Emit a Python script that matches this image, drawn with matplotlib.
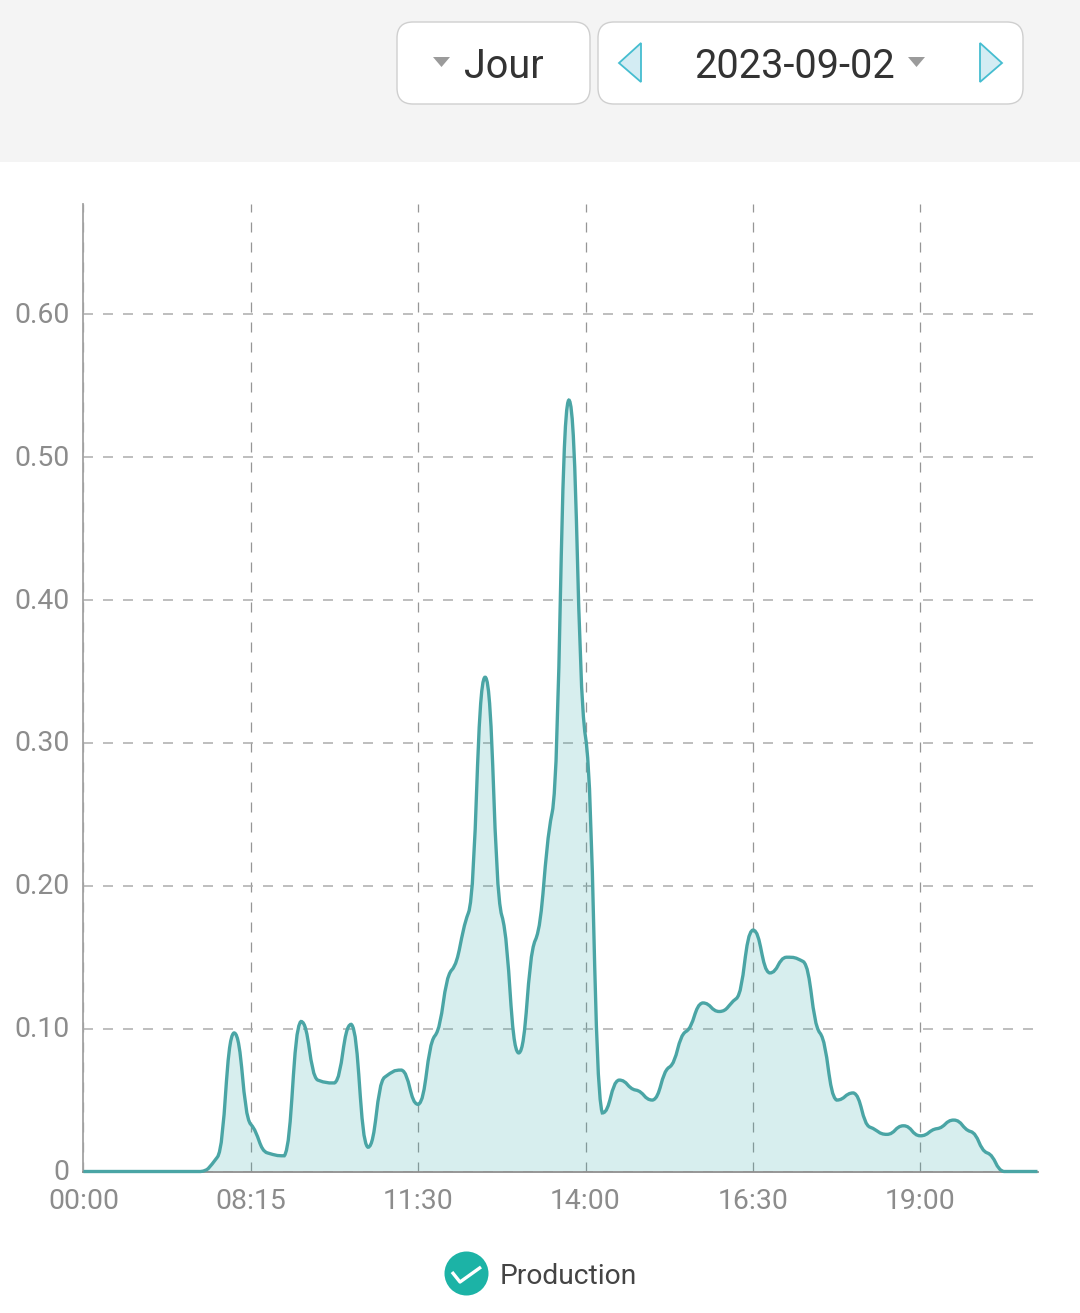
import matplotlib
matplotlib.use("Agg")
import matplotlib.pyplot as plt
import matplotlib.patches as mpatches
from matplotlib.path import Path
from matplotlib.transforms import ScaledTranslation

plt.rcParams["font.family"] = ["Roboto", "DejaVu Sans"]
plt.rcParams["lines.scale_dashes"] = False

# one value per slot, labels sit on every 10th slot
production = [
    0, 0, 0, 0, 0, 0, 0, 0, 0.010, 0.097,
    0.033, 0.013, 0.011, 0.105, 0.064, 0.062, 0.103, 0.017, 0.066, 0.071,
    0.047, 0.095, 0.141, 0.181, 0.346, 0.179, 0.083, 0.162, 0.251, 0.540,
    0.304, 0.041, 0.064, 0.057, 0.050, 0.073, 0.098, 0.118, 0.112, 0.121,
    0.169, 0.139, 0.150, 0.147, 0.097, 0.050, 0.055, 0.031, 0.026, 0.032,
    0.025, 0.030, 0.036, 0.028, 0.013, 0, 0, 0,
]
x_labels = ["00:00", "08:15", "11:30", "14:00", "16:30", "19:00"]
y_ticks = [0, 0.10, 0.20, 0.30, 0.40, 0.50, 0.60]
y_labels = ["0", "0.10", "0.20", "0.30", "0.40", "0.50", "0.60"]

W, H = 1080, 1313
fig = plt.figure(figsize=(W / 100, H / 100), dpi=100, facecolor="white")

# ─── page chrome, in pixels ───
page = fig.add_axes([0, 0, 1, 1])
page.set_xlim(0, W)
page.set_ylim(H, 0)
page.axis("off")
page.add_patch(mpatches.Rectangle((0, 0), W, 162, facecolor="#f4f4f4", edgecolor="none"))


def button(x, y, w, h):
    page.add_patch(mpatches.FancyBboxPatch(
        (x + 16, y + 16), w - 32, h - 32, boxstyle="round,pad=16",
        facecolor="white", edgecolor="#cfcfcf", linewidth=1.0))


def tri(points, fc, ec="none", lw=0):
    page.add_patch(mpatches.Polygon(points, closed=True, facecolor=fc, edgecolor=ec, linewidth=lw))


button(397, 22, 193, 82)
button(598, 22, 425, 82)
tri([(433, 57), (450, 57), (441.5, 67)], "#9b9b9b")
tri([(908, 57), (925, 57), (916.5, 67)], "#9b9b9b")
tri([(641, 43), (641, 82), (619, 63)], "#d3ecf3", "#45bdd0", 1.3)
tri([(980, 43), (980, 82), (1002, 63)], "#d3ecf3", "#45bdd0", 1.3)
page.text(464, 67, "Jour", fontsize=28.5, color="#333333", ha="left", va="center")
page.text(795, 67, "2023-09-02", fontsize=28.5, color="#333333", ha="center", va="center")

# legend
page.add_patch(mpatches.Circle((466.5, 1273.5), 22, facecolor="#1cb3a6", edgecolor="none"))
page.plot([452, 460, 481], [1272, 1282, 1267], color="white", lw=2.4, solid_capstyle="butt")
page.text(500, 1277, "Production", fontsize=20.3, color="#444444", ha="left", va="center")

# ─── chart ───
left, right, top, bottom = 83.4, 1037.5, 204, 1171.5
ax = fig.add_axes([left / W, 1 - bottom / H, (right - left) / W, (bottom - top) / H])
ax.patch.set_alpha(0)
ax.set_xlim(0, len(production) - 1)
ax.set_ylim(0, (bottom - top) / 1428.5)

ax.set_xticks(range(0, 10 * len(x_labels), 10), x_labels)
ax.set_yticks(y_ticks, y_labels)
ax.tick_params(length=0, labelsize=20.4, labelcolor="#8c8c8c")
ax.tick_params(axis="x", pad=12)
ax.tick_params(axis="y", pad=10)
# y labels sit about 2px higher than the default centring
nudge = ScaledTranslation(0, 2 / 100, fig.dpi_scale_trans)
for lab in ax.get_yticklabels():
    lab.set_transform(lab.get_transform() + nudge)
ax.xaxis.grid(True, color="#969696", lw=0.9, ls=(0, (7.2, 7.2)))
ax.yaxis.grid(True, color="#acacac", lw=1.1, ls=(0, (7.2, 7.2)))
ax.set_axisbelow(True)
for name in ["top", "right"]:
    ax.spines[name].set_visible(False)
ax.spines["left"].set_color("#a3a3a3")
ax.spines["left"].set_linewidth(1.3)
ax.spines["bottom"].set_color("#8f8f8f")
ax.spines["bottom"].set_linewidth(1.3)


def smooth_path(values, k=0.15):
    # bezier through the points, tangents kept flat so the shoulders show
    verts = [(0, values[0])]
    codes = [Path.MOVETO]
    n = len(values)
    for i in range(n - 1):
        prev_v = values[max(i - 1, 0)]
        next_v = values[min(i + 2, n - 1)]
        y0, y1 = values[i], values[i + 1]
        lo, hi = min(y0, y1), max(y0, y1)
        # no overshoot past the segment's own ends
        c0 = min(max(y0 + k * (y1 - prev_v) / 2, lo), hi)
        c1 = min(max(y1 - k * (next_v - y0) / 2, lo), hi)
        verts += [(i + 0.5, c0), (i + 0.5, c1), (i + 1, y1)]
        codes += [Path.CURVE4] * 3
    return verts, codes


verts, codes = smooth_path(production)
fill_verts = verts + [(len(production) - 1, 0), (0, 0), (0, 0)]
fill_codes = codes + [Path.LINETO, Path.LINETO, Path.CLOSEPOLY]
ax.add_patch(mpatches.PathPatch(Path(fill_verts, fill_codes), facecolor="#37aaaa", alpha=0.2,
                                edgecolor="none", zorder=2))
ax.add_patch(mpatches.PathPatch(Path(verts, codes), facecolor="none", edgecolor="#4aa5a5",
                                linewidth=2.4, zorder=3, clip_on=False))

plt.savefig("out.png", dpi=100)
